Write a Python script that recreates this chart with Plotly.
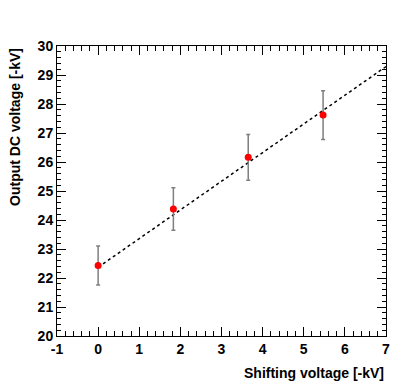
import plotly.graph_objects as go

# measured points
shift_kv = [0.0, 1.83, 3.65, 5.47]
output_kv = [22.43, 24.38, 26.16, 27.62]
output_err = [0.67, 0.73, 0.79, 0.84]

# linear fit drawn from x=0 to the right edge
fit_x = [0.0, 7.0]
fit_y = [22.37, 29.29]

x_ticks = [-1, 0, 1, 2, 3, 4, 5, 6, 7]
x_ticktext = ['-1', '0', '1', '2', '3', '4', '5', '6', '7']
y_ticks = [20, 21, 22, 23, 24, 25, 26, 27, 28, 29, 30]

font_name = "Liberation Sans, Arial, sans-serif"

fig = go.Figure()

fig.add_trace(go.Scatter(x=fit_x, y=fit_y, mode='lines',
                         line=dict(color='black', width=1.5, dash='dot'),
                         showlegend=False, hoverinfo='skip'))

fig.add_trace(go.Scatter(x=shift_kv, y=output_kv, mode='markers',
                         marker=dict(color='#ff0000', size=7),
                         error_y=dict(type='data', array=output_err, color='#7f7f7f',
                                      thickness=1.5, width=2),
                         showlegend=False))

axis_common = dict(
    showgrid=False, zeroline=False,
    showline=True, linecolor='black', linewidth=1,
    mirror='allticks', ticks='inside', ticklen=9, tickcolor='black', tickwidth=1,
    tickfont=dict(family=font_name, size=14, color='black', weight='bold'),
)

fig.update_xaxes(range=[-1, 7], tickvals=x_ticks, ticktext=x_ticktext,
                 minor=dict(dtick=0.2, ticks='inside', ticklen=5, tickcolor='black', showgrid=False),
                 **axis_common)
fig.update_yaxes(range=[20, 30], tickvals=y_ticks,
                 minor=dict(dtick=0.2, ticks='inside', ticklen=4, tickcolor='black', showgrid=False),
                 **axis_common)

fig.add_annotation(text="Shifting voltage [-kV]", xref='paper', yref='paper',
                   x=1, y=-0.127, xanchor='right', yanchor='middle', showarrow=False,
                   font=dict(family=font_name, size=14, color='black', weight='bold'))
fig.add_annotation(text="Output DC voltage [-kV]", xref='paper', yref='paper',
                   x=-0.128, y=1, xanchor='center', yanchor='top', textangle=-90, showarrow=False,
                   font=dict(family=font_name, size=14, color='black', weight='bold'))

# page body adds 8px, so the figure is a bit smaller than the window
fig.update_layout(width=399, height=383,
                  margin=dict(l=49, r=21, t=38, b=55),
                  paper_bgcolor='white', plot_bgcolor='white')

fig.write_html("out.html")
